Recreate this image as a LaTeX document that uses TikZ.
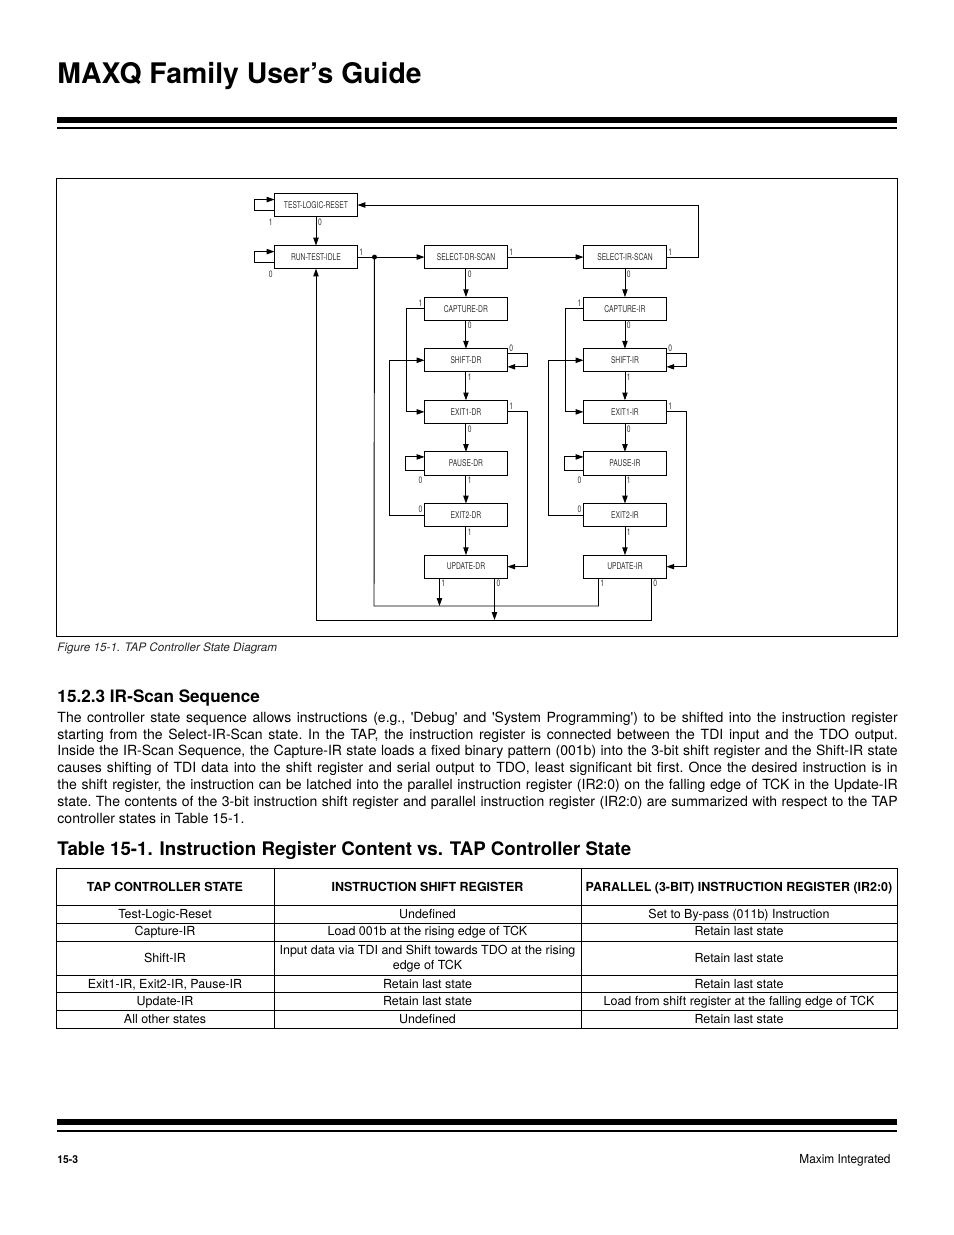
\documentclass[tikz,border=0pt]{standalone}
\usepackage{fontspec}
\setmainfont{TeX Gyre Heros}
\newfontfamily\diagfont[FakeStretch=0.72]{TeX Gyre Heros}
\newfontfamily\footfont[FakeStretch=0.95]{TeX Gyre Heros}
\usetikzlibrary{positioning,arrows.meta}

\begin{document}
\begin{tikzpicture}[x=0.6415pt, y=-0.6415pt, line width=0.6pt, node distance=18.3pt,
  state/.style={draw, minimum width=53.2pt, minimum height=14.8pt, inner sep=0pt, outer sep=0pt, font=\diagfont\fontsize{6}{7}\selectfont, text=black!80},
  lbl/.style={font=\diagfont\fontsize{6}{7}\selectfont, text=black!80, inner sep=1pt},
  arr/.style={-{Triangle[length=5pt,width=3.4pt]}},
  cell/.style={font=\fontsize{8}{9.6}\selectfont, align=center, inner sep=0pt, anchor=base},
  headcell/.style={font=\bfseries\fontsize{8}{9.6}\selectfont, inner sep=0pt, anchor=base}]
  \useasboundingbox (0,0) rectangle (954,1235);

  % page head
  \node[anchor=base west, inner sep=0pt, font=\bfseries\fontsize{18.2}{22}\selectfont] (title) at (57,83) {MAXQ Family User’s Guide};
  \fill (57,117) rectangle (897,123);
  \fill (57,127) rectangle (897,129);

  % state diagram
  \draw (56,178) rectangle (897,636);
  \node[state] (tlr) at (316,205) {TEST-LOGIC-RESET};
  \node[state, below=18.6pt of tlr] (rti) {RUN-TEST-IDLE};
  \node[state, right=43pt of rti] (sds) {SELECT-DR-SCAN};
  \node[state, right=48.8pt of sds] (sis) {SELECT-IR-SCAN};
  \node[state, below=of sds] (capdr) {CAPTURE-DR};
  \node[state, below=of capdr] (shdr) {SHIFT-DR};
  \node[state, below=of shdr] (ex1dr) {EXIT1-DR};
  \node[state, below=of ex1dr] (padr) {PAUSE-DR};
  \node[state, below=of padr] (ex2dr) {EXIT2-DR};
  \node[state, below=of ex2dr] (updr) {UPDATE-DR};
  \node[state, below=of sis] (capir) {CAPTURE-IR};
  \node[state, below=of capir] (shir) {SHIFT-IR};
  \node[state, below=of shir] (ex1ir) {EXIT1-IR};
  \node[state, below=of ex1ir] (pair) {PAUSE-IR};
  \node[state, below=of pair] (ex2ir) {EXIT2-IR};
  \node[state, below=of ex2ir] (upir) {UPDATE-IR};
  \coordinate[right=10.9pt of rti.east] (jn);
  \coordinate (bus1) at (374,606);
  \coordinate (bus0) at (316,620);

  % reset and idle
  \draw[arr] ([yshift=-3.5pt]tlr.west) -- ++(-20,0) |- ([yshift=3.5pt]tlr.west);
  \node[lbl, anchor=north east] (ltlr) at (tlr.south west) {1};
  \draw[arr] (tlr) -- node[lbl, at start, anchor=north west] (ltr) {0} (rti);
  \draw[arr] ([yshift=-3.5pt]rti.west) -- ++(-20,0) |- ([yshift=3.5pt]rti.west);
  \node[lbl, anchor=north east] (lrti) at (rti.south west) {0};
  \draw[arr] (rti) -- node[lbl, at start, anchor=south west] (lrs) {1} (sds);
  \fill (jn) circle[radius=1.6pt];
  \draw[arr] (sds) -- node[lbl, at start, anchor=south west] (lss) {1} (sis);
  \draw[arr] (sis.east) -- node[lbl, at start, anchor=south west] (lst) {1} ++(32,0) |- (tlr.east);

  % DR column
  \draw[arr] (sds) -- node[lbl, at start, anchor=north west] (ld1) {0} (capdr);
  \draw[arr] (capdr) -- node[lbl, at start, anchor=north west] (ld2) {0} (shdr);
  \draw[arr] (shdr) -- node[lbl, at start, anchor=north west] (ld3) {1} (ex1dr);
  \draw[arr] (ex1dr) -- node[lbl, at start, anchor=north west] (ld4) {0} (padr);
  \draw[arr] (padr) -- node[lbl, at start, anchor=north west] (ld5) {1} (ex2dr);
  \draw[arr] (ex2dr) -- node[lbl, at start, anchor=north west] (ld6) {1} (updr);
  \draw[arr] (capdr.west) -- node[lbl, at start, anchor=south east] (ld7) {1} ++(-18,0) |- (ex1dr.west);
  \draw[arr] (ex2dr.west) -- node[lbl, at start, anchor=south east] (ld8) {0} ++(-35,0) |- (shdr.west);
  \draw[arr] ([yshift=4.2pt]shdr.east) -- node[lbl, at start, anchor=south west] (ld9) {0} ++(20,0) |- ([yshift=-4.2pt]shdr.east);
  \draw[arr] (ex1dr.east) -- node[lbl, at start, anchor=south west] (ld10) {1} ++(20,0) |- (updr.east);
  \draw[arr] ([yshift=-4.2pt]padr.west) -- ++(-19,0) |- ([yshift=4.2pt]padr.west);
  \node[lbl, anchor=north east] (ld11) at (padr.south west) {0};
  \coordinate (dr1) at ([xshift=9.6pt]updr.south west);
  \coordinate (dr0) at ([xshift=-8.3pt]updr.south east);
  \draw[arr] (dr1) -- node[lbl, at start, anchor=north west] (ld12) {1} (dr1 |- bus1);
  \draw[arr] (dr0) -- node[lbl, at start, anchor=north west] (ld13) {0} (dr0 |- bus0);

  % IR column
  \draw[arr] (sis) -- node[lbl, at start, anchor=north west] (li1) {0} (capir);
  \draw[arr] (capir) -- node[lbl, at start, anchor=north west] (li2) {0} (shir);
  \draw[arr] (shir) -- node[lbl, at start, anchor=north west] (li3) {1} (ex1ir);
  \draw[arr] (ex1ir) -- node[lbl, at start, anchor=north west] (li4) {0} (pair);
  \draw[arr] (pair) -- node[lbl, at start, anchor=north west] (li5) {1} (ex2ir);
  \draw[arr] (ex2ir) -- node[lbl, at start, anchor=north west] (li6) {1} (upir);
  \draw[arr] (capir.west) -- node[lbl, at start, anchor=south east] (li7) {1} ++(-18,0) |- (ex1ir.west);
  \draw[arr] (ex2ir.west) -- node[lbl, at start, anchor=south east] (li8) {0} ++(-35,0) |- (shir.west);
  \draw[arr] ([yshift=4.2pt]shir.east) -- node[lbl, at start, anchor=south west] (li9) {0} ++(20,0) |- ([yshift=-4.2pt]shir.east);
  \draw[arr] (ex1ir.east) -- node[lbl, at start, anchor=south west] (li10) {1} ++(20,0) |- (upir.east);
  \draw[arr] ([yshift=-4.2pt]pair.west) -- ++(-19,0) |- ([yshift=4.2pt]pair.west);
  \node[lbl, anchor=north east] (li11) at (pair.south west) {0};
  \coordinate (ir1) at ([xshift=9.6pt]upir.south west);
  \coordinate (ir0) at ([xshift=-9.6pt]upir.south east);
  \draw (ir1) -- node[lbl, at start, anchor=north west] (li12) {1} (ir1 |- bus1) -- (bus1) -- (jn);
  \draw[arr] (ir0) -- node[lbl, at start, anchor=north west] (li13) {0} (ir0 |- bus0) -- (bus0) -- (rti);

  \node[anchor=base west, inner sep=0pt, font=\itshape\fontsize{7.5}{9}\selectfont, text=black!85] (figcap) at (57,651) {Figure 15-1. TAP Controller State Diagram};

  % section text
  \node[anchor=base west, inner sep=0pt, font=\bfseries\fontsize{11}{13}\selectfont] (sec) at (57,702) {15.2.3 IR-Scan Sequence};
  \node[anchor=base west, inner sep=0pt, text width=539pt, align=justify, font=\fontsize{9}{10.9}\selectfont] (body) at (57,722) {\frenchspacing\hyphenpenalty=10000 \exhyphenpenalty=10000 \tolerance=10000
    The controller state sequence allows instructions (e.g., \textquotesingle Debug\textquotesingle{} and \textquotesingle System Programming\textquotesingle) to be shifted into the instruction register\linebreak
    starting from the Select-IR-Scan state. In the TAP, the instruction register is connected between the TDI input and the TDO output.\linebreak
    Inside the IR-Scan Sequence, the Capture-IR state loads a fixed binary pattern (001b) into the 3-bit shift register and the Shift-IR state\linebreak
    causes shifting of TDI data into the shift register and serial output to TDO, least significant bit first. Once the desired instruction is in\linebreak
    the shift register, the instruction can be latched into the parallel instruction register (IR2:0) on the falling edge of TCK in the Update-IR\linebreak
    state. The contents of the 3-bit instruction shift register and parallel instruction register (IR2:0) are summarized with respect to the TAP\linebreak
    controller states in Table 15-1.};

  % table
  \node[anchor=base west, inner sep=0pt, font=\bfseries\fontsize{12}{14}\selectfont] (tabcap) at (57,855) {Table 15-1. Instruction Register Content vs. TAP Controller State};
  \draw (56,868) rectangle (897,1028);
  \foreach \ly in {905,923,941,975,992,1010}
    \draw (56,\ly) -- (897,\ly);
  \draw (274,868) -- (274,1028);
  \draw (581,868) -- (581,1028);
  \node[headcell] (h1) at (165,891) {TAP CONTROLLER STATE};
  \node[headcell] (h2) at (427.5,891) {INSTRUCTION SHIFT REGISTER};
  \node[headcell] (h3) at (739,891) {PARALLEL (3-BIT) INSTRUCTION REGISTER (IR2:0)};
  \foreach \ry/\ca/\cb/\cc [count=\k] in {
      918.5/Test-Logic-Reset/Undefined/Set to By-pass (011b) Instruction,
      935.5/Capture-IR/Load 001b at the rising edge of TCK/Retain last state,
      988/{Exit1-IR, Exit2-IR, Pause-IR}/Retain last state/Retain last state,
      1005/Update-IR/Retain last state/Load from shift register at the falling edge of TCK,
      1023/All other states/Undefined/Retain last state} {
    \node[cell] (ra\k) at (165,\ry) {\ca};
    \node[cell] (rb\k) at (427.5,\ry) {\cb};
    \node[cell] (rc\k) at (739,\ry) {\cc};
  }
  \node[cell] (rashift) at (165,962) {Shift-IR};
  \node[cell, anchor=center] (rbshift) at (427.5,958.5) {Input data via TDI and Shift towards TDO at the rising\\edge of TCK};
  \node[cell] (rcshift) at (739,962) {Retain last state};

  % page foot
  \fill (57,1119) rectangle (897,1125);
  \fill (57,1130) rectangle (897,1132);
  \node[anchor=base west, inner sep=0pt, font=\footfont\bfseries\fontsize{7}{8}\selectfont] (pageno) at (57,1163) {15-3};
  \node[anchor=base east, inner sep=0pt, font=\footfont\fontsize{8}{9}\selectfont] (maker) at (891,1163) {Maxim Integrated};
\end{tikzpicture}
\end{document}
